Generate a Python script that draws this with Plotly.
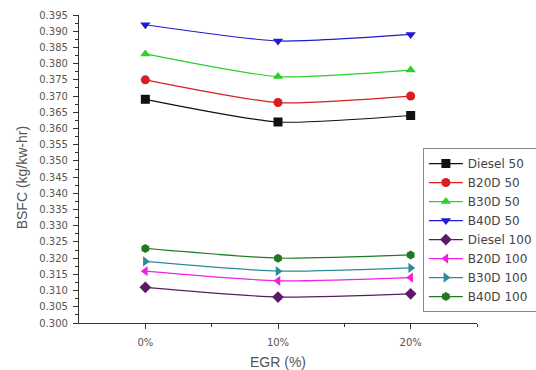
import plotly.graph_objects as go

# EGR rate (%) on the x axis
egr = [0, 10, 20]
egr_labels = ["0%", "10%", "20%"]

# BSFC (kg/kW-hr) for each fuel blend at 50% and 100% load
diesel_50 = [0.369, 0.362, 0.364]
b20d_50 = [0.375, 0.368, 0.370]
b30d_50 = [0.383, 0.376, 0.378]
b40d_50 = [0.392, 0.387, 0.389]
diesel_100 = [0.311, 0.308, 0.309]
b20d_100 = [0.316, 0.313, 0.314]
b30d_100 = [0.319, 0.316, 0.317]
b40d_100 = [0.323, 0.320, 0.321]

series = [
    ("Diesel 50", diesel_50, "#111111", "square"),
    ("B20D 50", b20d_50, "#d81e1e", "circle"),
    ("B30D 50", b30d_50, "#2ccf2c", "triangle-up"),
    ("B40D 50", b40d_50, "#1c1cd0", "triangle-down"),
    ("Diesel 100", diesel_100, "#5a1a66", "diamond"),
    ("B20D 100", b20d_100, "#f020e0", "triangle-left"),
    ("B30D 100", b30d_100, "#2a8c98", "triangle-right"),
    ("B40D 100", b40d_100, "#217a21", "hexagon"),
]

fig = go.Figure()
for name, vals, color, symbol in series:
    fig.add_trace(go.Scatter(
        x=egr, y=vals, name=name, mode="lines+markers",
        line=dict(color=color, width=1.2, shape="spline", smoothing=0.6),
        marker=dict(color=color, symbol=symbol, size=9),
    ))

tick_font = dict(family="DejaVu Sans, sans-serif", size=10, color="#555555")
title_font = dict(family="Liberation Sans, Arial, sans-serif", size=14, color="#555555")

fig.update_layout(
    width=536, height=370,
    margin=dict(l=79, r=59, t=15, b=47, autoexpand=False),
    paper_bgcolor="white", plot_bgcolor="white",
    showlegend=True,
    legend=dict(
        x=0.864, y=0.568, xanchor="left", yanchor="top",
        bordercolor="#8a8a8a", borderwidth=1, bgcolor="white",
        font=dict(family="DejaVu Sans, sans-serif", size=12, color="#444444"),
        tracegroupgap=0, itemwidth=34,
    ),
    xaxis=dict(
        range=[-5, 25], tickvals=egr, ticktext=egr_labels,
        automargin=False,
        showgrid=False, zeroline=False,
        showline=True, linecolor="#333333", linewidth=1.2,
        ticks="outside", ticklen=5, tickcolor="#333333",
        minor=dict(tickvals=[5, 15, 25], ticks="outside", ticklen=3, tickcolor="#333333"),
        tickfont=tick_font, ticklabelstandoff=5,
        title=dict(text="EGR (%)", font=title_font, standoff=12),
    ),
    yaxis=dict(
        range=[0.300, 0.395], dtick=0.005, tickformat=".3f",
        automargin=False,
        showgrid=False, zeroline=False,
        showline=True, linecolor="#333333", linewidth=1.2,
        ticks="outside", ticklen=5, tickcolor="#333333",
        minor=dict(dtick=0.0025, ticks="outside", ticklen=3, tickcolor="#333333"),
        tickfont=tick_font, ticklabelstandoff=3,
    ),
    annotations=[dict(
        text="BSFC (kg/kw-hr)", textangle=-90,
        xref="paper", yref="paper", x=-0.143, y=0.47,
        xanchor="center", yanchor="middle", showarrow=False,
        font=title_font,
    )],
)

fig.write_html("out.html")
